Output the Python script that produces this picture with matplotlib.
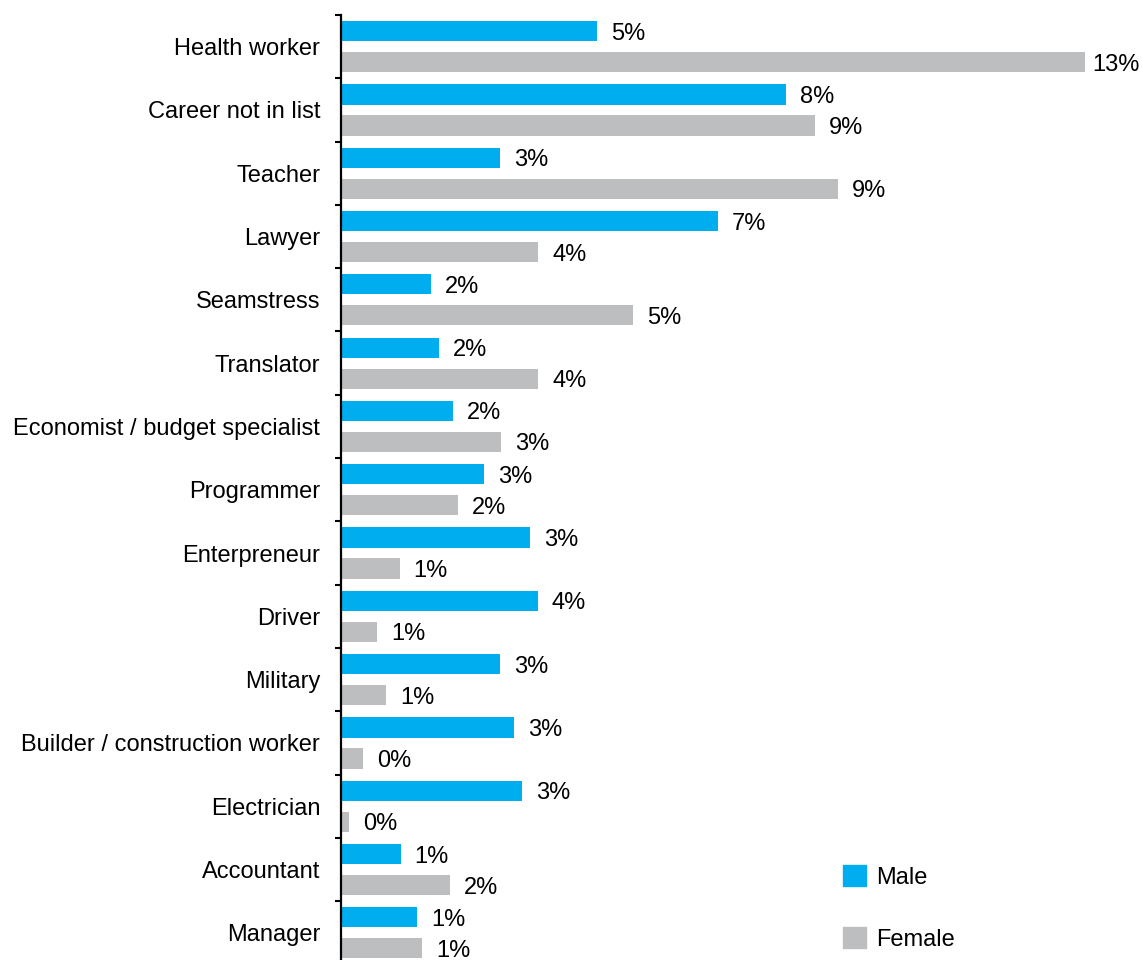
import numpy as np
import matplotlib
matplotlib.use("Agg")
import matplotlib.pyplot as plt
from matplotlib.patches import Patch

plt.rcParams["font.family"] = ["Liberation Sans", "DejaVu Sans"]

# ── Data ──────────────────────────────────────────────────────────────────────
careers = [
    "Health worker", "Career not in list", "Teacher", "Lawyer", "Seamstress",
    "Translator", "Economist / budget specialist", "Programmer", "Enterpreneur",
    "Driver", "Military", "Builder / construction worker", "Electrician",
    "Accountant", "Manager",
]
male = [4.62, 8.03, 2.87, 6.80, 1.62, 1.77, 2.02, 2.58, 3.41, 3.55, 2.87, 3.12,
        3.27, 1.08, 1.37]
female = [13.43, 8.56, 8.97, 3.56, 5.27, 3.56, 2.89, 2.11, 1.06, 0.65, 0.81,
          0.40, 0.14, 1.97, 1.46]

BLUE = "#00AEEF"
GREY = "#BDBEC0"
FS = 17

# ── Plot ──────────────────────────────────────────────────────────────────────
fig = plt.figure(figsize=(11.42, 9.6), dpi=100)
ax = fig.add_axes([341 / 1142, 0, 1 - 341 / 1142, (960 - 15) / 960])

y = np.arange(len(careers))
off, h = 0.245, 0.32

bm = ax.barh(y - off, male, height=h, color=BLUE, label="Male")
bf = ax.barh(y + off, female, height=h, color=GREY, label="Female")

xmax = (1142 - 341) / 55.4
for bars, vals in [(bm, male), (bf, female)]:
    for rect, v in zip(bars, vals):
        # tighter gap for the longest bar so its label stays inside the figure
        gap = 5 if v > 0.9 * xmax else 10
        ax.annotate(f"{v:.0f}%", (rect.get_width(), rect.get_y() + rect.get_height() / 2),
                    xytext=(gap, 0), textcoords="offset points",
                    ha="left", va="center_baseline", fontsize=FS,
                    annotation_clip=False)

ax.set_xlim(0, xmax)
ax.set_ylim(-0.5 + 945 / 63.3, -0.5)

ax.set_yticks(y)
ax.set_yticklabels(careers, fontsize=FS)
ax.set_yticks(np.arange(len(careers)) - 0.5, minor=True)
ax.tick_params(axis="y", which="major", length=0, pad=15)
ax.tick_params(axis="y", which="minor", length=4.5, width=1.5, direction="out")
ax.set_xticks([])

for s in ["top", "right", "bottom"]:
    ax.spines[s].set_visible(False)
ax.spines["left"].set_linewidth(1.6)

handles = [Patch(color=BLUE, label="Male"), Patch(color=GREY, label="Female")]
ax.legend(handles=handles, loc="lower left", bbox_to_anchor=(493 / 801, 0.0),
          frameon=False, fontsize=FS, handlelength=0.95, handleheight=0.95,
          labelspacing=1.64, handletextpad=0.45, borderaxespad=0.0)

fig.savefig("out.png", dpi=100)
